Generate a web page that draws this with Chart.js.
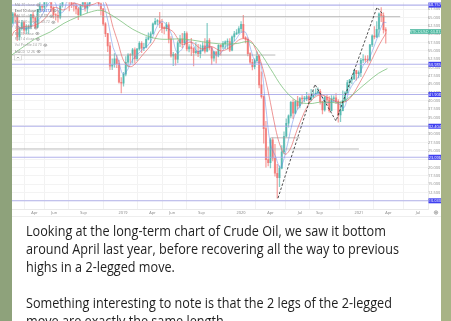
<!DOCTYPE html>
<html><head><meta charset="utf-8">
<script src="https://cdn.jsdelivr.net/npm/chart.js@4.4.1/dist/chart.umd.min.js"></script>
<style>
html,body{margin:0;padding:0;}
body{width:451px;height:321px;overflow:hidden;position:relative;
 background:linear-gradient(to right,#8ea27b 0,#8ea27b 12px,#fff 12px,#fff 441px,#a8b386 441px);}
#wrap{position:absolute;left:12px;top:0;width:429px;height:217px;}
#bline{position:absolute;left:12px;top:216px;width:429px;height:1px;background:#eeeeee;}
#txt{position:absolute;left:25.5px;top:222px;font-family:"Open Sans",sans-serif;font-size:14.5px;line-height:18px;color:#1f1f1f;white-space:nowrap;transform-origin:0 0;}
#txt div{height:18px;}
</style></head>
<body>
<div id="wrap"><canvas id="c"></canvas></div>
<div id="bline"></div>
<div id="txt">
<div id="l1">Looking at the long-term chart of Crude Oil, we saw it bottom</div>
<div id="l2">around April last year, before recovering all the way to previous</div>
<div>highs in a 2-legged move.</div>
<div>&nbsp;</div>
<div>Something interesting to note is that the 2 legs of the 2-legged</div>
<div>move are exactly the same length.</div>
</div>
<script>
// ---- DATA (weekly candles, Jan 2018 - Mar 2021) ----
const firstOpen = 60.4;
const weekCloses = [61.4,64.3,63.4,66.1,65.5,59.2,61.7,63.5,61.2,62.0,62.3,65.9,64.9,62.1,67.4,68.4,68.1,69.7,70.7,71.3,67.9,65.8,65.7,65.1,68.6,74.2,73.8,71.0,70.5,68.7,68.5,67.6,65.9,68.7,69.8,67.8,69.0,70.8,73.3,74.3,71.3,69.1,67.6,63.1,60.2,56.5,50.4,50.9,52.6,51.2,45.6,45.3,
48.0,51.6,53.8,53.7,55.3,52.7,55.6,57.3,55.8,56.1,58.5,59.0,60.1,63.1,63.9,64.0,63.3,61.9,61.7,62.8,58.6,53.5,54.0,52.5,57.4,58.5,57.5,60.2,55.6,56.2,55.7,54.5,54.9,54.2,55.1,56.5,54.9,58.1,55.9,52.8,54.7,53.8,56.7,56.2,57.2,57.7,57.8,55.2,59.2,60.1,60.4,61.7,
63.0,59.0,58.5,54.2,51.6,50.3,52.1,53.4,44.8,41.3,31.7,22.4,21.5,28.3,22.8,18.3,17.0,19.8,24.7,29.4,33.3,35.5,39.6,36.3,39.8,38.5,40.7,40.6,40.6,41.3,40.3,41.2,42.0,42.3,42.9,39.8,37.3,41.1,40.3,37.1,40.6,40.9,39.9,35.8,37.1,40.1,42.4,45.5,46.3,46.6,49.1,48.2,
48.5,52.2,52.4,52.3,52.2,56.8,59.5,59.2,61.5,66.1,65.6,61.4,60.9];
const weekHighs = [62.2,64.8,64.9,66.6,66.5,65.6,62.1,64.2,63.9,62.9,62.8,66.0,66.6,65.0,67.5,69.6,68.9,70.0,71.9,72.9,72.8,68.2,66.2,67.2,69.3,74.5,75.3,74.5,71.3,70.8,70.3,69.0,68.0,69.0,70.3,71.4,71.0,71.4,73.5,76.9,75.3,72.5,69.4,67.8,63.5,60.3,57.6,52.6,54.2,53.6,52.2,47.0,
48.6,53.3,54.2,54.2,55.8,55.9,55.7,57.8,57.8,57.3,59.2,60.4,60.7,63.4,64.8,64.4,66.6,64.5,62.3,63.6,63.5,59.3,54.6,54.3,58.0,59.7,60.3,60.9,60.7,56.9,58.8,56.0,57.5,57.0,56.8,57.5,58.7,63.3,58.7,56.3,54.9,54.8,56.9,56.9,57.9,58.0,58.6,58.7,59.5,60.9,61.4,62.3,
63.8,65.7,59.3,58.9,54.5,52.5,52.6,54.7,53.8,48.7,41.5,33.9,26.2,28.8,28.9,27.0,21.0,20.5,26.6,30.7,34.6,35.8,39.9,40.4,40.1,41.4,41.1,41.6,41.4,42.6,42.1,43.5,43.0,43.6,43.9,43.5,39.9,41.5,41.8,41.3,41.6,41.5,42.2,40.4,39.8,43.0,42.8,46.2,46.5,47.7,49.3,49.2,
49.0,52.8,53.9,53.5,53.6,57.0,59.8,62.3,63.8,66.4,68.0,66.4,62.0];
const weekLows = [60.0,61.1,62.7,63.1,63.6,58.1,58.2,61.2,60.1,60.2,60.2,61.6,63.7,61.8,62.0,66.5,67.0,66.9,68.4,70.5,66.8,64.8,64.2,63.6,64.6,68.1,72.9,69.6,67.0,68.0,66.9,66.1,64.4,65.6,68.1,66.9,66.5,68.4,69.9,73.2,70.4,68.5,65.7,62.6,59.3,54.8,49.4,49.4,50.1,50.0,45.3,42.4,
44.4,47.5,50.3,51.3,51.3,51.3,52.1,55.2,54.5,55.1,55.9,58.3,57.4,60.1,62.9,62.9,62.0,60.5,60.1,61.0,57.4,53.1,50.6,50.7,51.4,56.3,56.0,56.9,55.0,54.7,53.6,50.5,54.1,53.3,52.9,54.9,54.3,54.7,55.3,50.9,51.9,51.3,53.2,53.7,55.6,55.7,55.6,54.8,55.0,58.0,59.9,60.2,
60.6,58.7,57.4,53.5,51.1,49.3,49.6,51.7,43.9,40.8,27.3,20.1,20.5,19.9,22.0,17.4,10.8,14.3,19.6,24.1,29.1,32.1,34.9,34.7,36.1,37.6,37.9,39.1,39.7,40.1,39.3,40.0,41.0,41.6,42.2,39.0,36.1,36.9,38.9,36.6,36.9,39.6,39.2,33.6,33.8,37.0,39.7,42.3,43.9,45.2,46.4,46.2,
46.9,47.3,51.5,51.6,51.3,51.9,56.3,58.6,59.0,59.2,63.8,60.3,57.3];
const firstCandleDay = 3;      // day of 2018 of the first weekly candle
const daysPerMonth = 30.44;

// moving averages: [month since Jan 2018, price]
const redMA = [[0.7,59.5],[1,61.0],[2,62.3],[3,62.6],[4,64.5],[5,68.0],[6,67.3],[7,69.3],[8,68.5],[9,69.0],[10,70.2],[10.5,67.5],[11,62.0],[11.5,57.5],[12,52.5],[12.5,50.5],[13,50.5],[14,53.8],[15,57.3],[16,61.8],[17,61.0],[17.5,59.0],[18,57.0],[19,57.6],[20,55.6],[21,56.3],[22,55.0],[23,56.3],[24,58.6],[25,58.0],[25.5,55.5],[26,52.0],[26.5,46.5],[27,39.5],[27.5,32.0],[28,26.5],[28.5,24.0],[29,25.5],[29.5,29.5],[30,33.5],[31,39.5],[32,41.8],[33,40.8],[34,39.5],[35,40.5],[36,45.0],[37,50.5],[38,56.5],[38.8,60.5]];
const blueMA = [[0.7,62],[1,63.5],[1.5,62.0],[2,61.8],[2.5,61.8],[3,63.5],[3.5,64.5],[4,67.0],[4.5,69.5],[5,70.0],[5.5,66.5],[6,67.0],[6.5,72.5],[7,70.0],[7.5,68.0],[8,67.5],[8.5,69.0],[9,71.0],[9.5,73.0],[10,69.5],[10.5,63.5],[11,56.0],[11.5,52.5],[12,48.0],[12.5,49.5],[13,52.5],[13.5,54.0],[14,55.5],[14.5,56.5],[15,59.0],[15.5,62.5],[16,63.8],[16.5,62.5],[17,59.5],[17.5,54.5],[18,55.5],[18.5,58.0],[19,57.5],[19.5,55.0],[20,55.0],[20.5,56.5],[21,56.0],[21.5,53.5],[22,54.5],[22.5,56.5],[23,57.0],[23.5,58.5],[24,60.5],[24.5,60.5],[25,55.5],[25.5,51.5],[26,51.5],[26.5,39.0],[27,27.0],[27.5,23.5],[28,20.0],[28.5,24.0],[29,30.5],[29.5,36.0],[30,38.5],[30.5,40.5],[31,41.0],[31.5,42.0],[32,42.5],[32.5,39.8],[33,39.5],[33.5,40.0],[34,39.0],[34.5,38.0],[35,43.0],[35.5,45.5],[36,47.5],[36.5,51.0],[37,52.5],[37.5,56.0],[38,60.0],[38.5,63.5],[38.8,63.5]];
const greenMA = [[0.7,53.8],[2,56.5],[3,58.5],[4.6,60.7],[6,63.3],[7.3,65.1],[8.5,66.5],[9.7,67.2],[10.7,66.0],[12,63.5],[13,61.5],[14.75,59.2],[16,58.5],[18.1,58.6],[20,57.8],[21.9,57.1],[23.5,57.2],[24.9,57.7],[25.9,54.7],[27,49.7],[28.3,43.8],[29.7,39.9],[31,39.2],[32,39.6],[33,39.6],[34.1,39.5],[35,41.0],[36,43.5],[37,46.0],[38,48.3],[38.9,49.7]];

// drawn levels
const levelPrices = [68.757,50.985,41.908,32.404,23.096,10.030];
const grayLevels = [[65.28,0.71,40.2],[53.77,0.71,27.5],[25.58,0.71,36.0],[28.93,27.0,30.0]];
const legPoints = [[27.77,10.83],[31.53,44.96],[33.67,33.98],[37.84,68.1],[38.35,66.3]];
const lastPrice = 60.833;
const symbolName = 'WTICOUSD';

// axes
const xMin = 0.712, xMax = 43.03, yMin = 7.57, yMax = 69.58;
const xTickPos = [3,5,8,12,15,17,20,24,27,30,32,36,39,42];
const xTickLabels = ['Apr','Jun','Sep','2019','Apr','Jun','Sep','2020','Apr','Jul','Sep','2021','Apr','Jul'];
const yTicks = [10,12.5,15,17.5,20,22.5,25,27.5,30,32.5,35,37.5,40,42.5,45,47.5,50,52.5,55,57.5,60,62.5,65,67.5];

const legendRows = [
 ['MA 20 close','#9a9a9a',''],
 ['Envl 10 close 0','#4a4a4a','60.472'],
 ['MA 50 close 0 58.88','#9a9a9a',''],
 ['MA 200 close 0 49.72','#9a9a9a',''],
 ['VWAP hlc3','#9a9a9a',''],
 ['BB 20 close','#9a9a9a',''],
 ['RSI 14 close','#9a9a9a',''],
 ['Vol Profile 24 70','#9a9a9a',''],
 ['MACD 12 26','#9a9a9a','']
];

// ---- build ----
const weekX = weekCloses.map((c,i)=>(firstCandleDay + i*7)/daysPerMonth);
const opens = weekCloses.map((c,i)=> i===0 ? firstOpen : weekCloses[i-1]);
const upCol = 'rgba(38,166,154,0.55)', dnCol = 'rgba(239,83,80,0.55)';
const cols = weekCloses.map((c,i)=> c>=opens[i] ? upCol : dnCol);

const datasets = [];
datasets.push({type:'bar', data: weekX.map((x,i)=>({x, y:[weekLows[i], weekHighs[i]]})), backgroundColor: cols, barThickness:0.6, grouped:false, order:10});
datasets.push({type:'bar', data: weekX.map((x,i)=>({x, y:[opens[i], weekCloses[i]]})), backgroundColor: cols, barThickness:1.5, minBarLength:0.8, grouped:false, order:9});
const mkLine = (pts,color,w,extra)=>Object.assign({type:'line', data: pts.map(p=>({x:p[0],y:p[1]})), borderColor:color, borderWidth:w, pointRadius:0, fill:false, tension:0.35, order:5}, extra||{});
datasets.push(mkLine(greenMA,'rgba(120,190,120,0.85)',0.9));
datasets.push(mkLine(redMA,'rgba(230,100,100,0.75)',0.9));
datasets.push(mkLine(blueMA,'rgba(90,130,230,0.6)',0.8));
levelPrices.forEach(v=>datasets.push({type:'line', data:[{x:xMin,y:v},{x:xMax,y:v}], borderColor:'rgba(165,165,232,0.85)', borderWidth:1.1, pointRadius:0, order:7}));
grayLevels.forEach(g=>datasets.push({type:'line', data:[{x:g[1],y:g[0]},{x:g[2],y:g[0]}], borderColor:'rgba(160,160,160,0.8)', borderWidth:0.9, pointRadius:0, order:7}));
datasets.push({type:'line', data: legPoints.map(p=>({x:p[0],y:p[1]})), borderColor:'#222', borderWidth:0.8, borderDash:[2.5,1.8], pointRadius:0, tension:0, order:1});

const overlay = {
 id:'overlay',
 afterDraw(chart){
  const {ctx, chartArea:ca, scales} = chart; const y = scales.y;
  ctx.save();
  ctx.textAlign='center'; ctx.textBaseline='middle';
  ctx.font = '3.9px "Open Sans"';
  levelPrices.forEach(v=>{
    const py = y.getPixelForValue(v);
    ctx.fillStyle='#4040f0'; ctx.fillRect(ca.right+0.5, py-2.5, 12.8, 5);
    ctx.fillStyle='#fff'; ctx.fillText(v.toFixed(3), ca.right+6.9, py+0.2);
  });
  const pl = y.getPixelForValue(lastPrice);
  ctx.fillStyle='#48b59d'; ctx.fillRect(ca.right-18, pl-2.3, 31.3, 4.6);
  ctx.fillStyle='#e9fff8'; ctx.fillText(symbolName+'  '+lastPrice.toFixed(3), ca.right-2.4, pl+0.2);
  // legend rows
  ctx.textAlign='left'; ctx.font='3.6px "Open Sans"';
  const rowY = [5,10.7,16.2,22.3,28,33.5,39.3,45.2,51.5];
  legendRows.forEach((r,i)=>{
    let xx = 2.7; const yy = rowY[i];
    ctx.fillStyle=r[1]; ctx.fillText(r[0], xx, yy); xx += ctx.measureText(r[0]).width + 1;
    if(r[2]){ ctx.fillStyle='#3d5ee0'; ctx.fillText(r[2], xx, yy); xx += ctx.measureText(r[2]).width + 1; }
    xx += 2.5;
    ctx.strokeStyle='#808080'; ctx.lineWidth=0.6;
    ctx.beginPath(); ctx.ellipse(xx, yy, 1.6, 1.1, 0, 0, Math.PI*2); ctx.stroke();
    ctx.fillStyle='#808080'; ctx.beginPath(); ctx.arc(xx, yy, 0.5, 0, Math.PI*2); ctx.fill();
  });
  // collapse box
  ctx.fillStyle='#fff'; ctx.strokeStyle='#c8c8c8'; ctx.lineWidth=0.6;
  ctx.fillRect(2.5,55,7,5); ctx.strokeRect(2.5,55,7,5);
  ctx.strokeStyle='#777'; ctx.beginPath(); ctx.moveTo(4.8,58.3); ctx.lineTo(6,57); ctx.lineTo(7.2,58.3); ctx.stroke();
  // gear
  const gx = ca.right+8, gy = ca.bottom+3.5;
  ctx.strokeStyle='#888'; ctx.lineWidth=0.7;
  ctx.beginPath(); ctx.arc(gx, gy, 1.7, 0, Math.PI*2); ctx.stroke();
  ctx.beginPath(); ctx.arc(gx, gy, 0.6, 0, Math.PI*2); ctx.stroke();
  ctx.restore();
 }
};

new Chart(document.getElementById('c'), {
 type:'bar',
 data:{datasets},
 plugins:[overlay],
 options:{
  responsive:true, maintainAspectRatio:false, animation:false, devicePixelRatio:1,
  events:[],
  layout:{padding:0},
  plugins:{legend:{display:false}, tooltip:{enabled:false}},
  scales:{
   x:{type:'linear', min:xMin, max:xMax, offset:false,
      grid:{color:'#f2f2f2', lineWidth:1, drawTicks:false},
      border:{color:'#e9e9e9'},
      afterBuildTicks:s=>{ s.ticks = xTickPos.map(v=>({value:v})); },
      afterFit:s=>{ s.height = 8; },
      ticks:{autoSkip:false, maxRotation:0, padding:1.5, color:'#808080', font:{size:3.9, family:'Open Sans'},
        callback:(v,i)=>xTickLabels[i]}},
   y:{type:'linear', position:'right', min:yMin, max:yMax,
      grid:{color:'#f3f3f3', lineWidth:1, drawTicks:false},
      border:{color:'#ececec'},
      afterBuildTicks:s=>{ s.ticks = yTicks.map(v=>({value:v})); },
      afterFit:s=>{ s.width = 13; },
      ticks:{padding:0, crossAlign:'center', color:'#8a8a8a', font:{size:3.9, family:'Open Sans'},
        callback:v=>Number(v).toFixed(3)}}
  }
 }
});

// fit the paragraph width to the reference line length
function fitText(){
  const t = document.getElementById('txt');
  t.style.transform='none';
  const el = document.createElement('span'); el.textContent = document.getElementById('l2').textContent;
  el.style.font = getComputedStyle(t).font; el.style.position='absolute'; el.style.visibility='hidden'; el.style.whiteSpace='nowrap';
  document.body.appendChild(el); const ww = el.getBoundingClientRect().width; el.remove();
  t.style.transform = 'scaleX(' + (373/ww) + ')';
}
fitText();
if(document.fonts && document.fonts.ready) document.fonts.ready.then(fitText);
</script>
</body></html>
